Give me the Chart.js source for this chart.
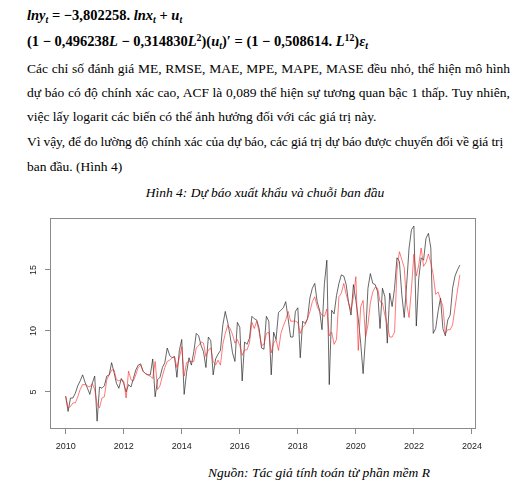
<!DOCTYPE html>
<html>
<head>
<meta charset="utf-8">
<script src="https://cdn.jsdelivr.net/npm/chart.js@4.4.0/dist/chart.umd.min.js"></script>
<style>
  body { margin: 0; background: #fff; width: 530px; height: 496px; overflow: hidden; position: relative;
         font-family: "Liberation Serif", "Times New Roman", serif; color: #000; }
  .ln { position: absolute; left: 27px; font-size: 13.5px; line-height: 14px; white-space: nowrap; }
  .j { width: 483px; text-align: justify; text-align-last: justify; white-space: normal; }
  .tight { letter-spacing: -0.12px; }
  .eq { font-size: 14.5px; font-weight: bold; }
  .eq i { font-style: italic; }
  sub, sup { font-size: 0.68em; line-height: 0; }
  sub { vertical-align: -0.3em; }
  sup { vertical-align: 0.5em; }
  .cap { position: absolute; left: 0; width: 530px; text-align: center; font-style: italic; font-size: 13.5px; line-height: 14px; }
  #wrap { position: absolute; left: 0; top: 200px; width: 530px; height: 265px; }
</style>
</head>
<body>
<div class="ln eq" style="top:8px"><i>lny</i><sub><i>t</i></sub> = −3,802258. <i>lnx</i><sub><i>t</i></sub> + <i>u</i><sub><i>t</i></sub></div>
<div class="ln eq" style="top:34px">(1 − 0,496238<i>L</i> − 0,314830<i>L</i><sup>2</sup>)(<i>u</i><sub><i>t</i></sub>)′ = (1 − 0,508614. <i>L</i><sup>12</sup>)<i>ε</i><sub><i>t</i></sub></div>
<div class="ln j" style="top:62px">Các chỉ số đánh giá ME, RMSE, MAE, MPE, MAPE, MASE đều nhỏ, thể hiện mô hình</div>
<div class="ln j" style="top:86px">dự báo có độ chính xác cao, ACF là 0,089 thể hiện sự tương quan bậc 1 thấp. Tuy nhiên,</div>
<div class="ln" style="top:110px">việc lấy logarit các biến có thể ảnh hưởng đối với các giá trị này.</div>
<div class="ln tight" style="top:135px">Vì vậy, để đo lường độ chính xác của dự báo, các giá trị dự báo được chuyển đổi về giá trị</div>
<div class="ln" style="top:160px">ban đầu. (Hình 4)</div>
<div class="cap" style="top:186px">Hình 4: Dự báo xuất khẩu và chuỗi ban đầu</div>
<div id="wrap"><canvas id="chart" width="530" height="265"></canvas></div>
<div class="cap" style="top:466px;left:54px">Nguồn: Tác giả tính toán từ phần mềm R</div>

<script>
// monthly series, Jan 2010 - Aug 2023
const startYear = 2010;

const actual = [
  4.65, 3.4, 4.5, 4.5, 4.9, 5.5, 5.9, 6.4, 5.8, 5.3, 4.8, 5.7,
  6.3, 2.6, 5.4, 5.3, 5.5, 6.3, 6.4, 7.4, 6.6, 5.7, 5.3, 6.1,
  5.7, 5.0, 5.6, 5.4, 6.1, 6.8, 7.2, 7.3, 6.7, 6.5, 6.4, 6.4,
  7.7, 4.6, 6.0, 6.2, 7.0, 7.4, 8.6, 8.0, 7.8, 7.9, 6.2, 8.4,
  9.3, 4.8, 6.6, 7.8, 7.2, 8.3, 9.8, 9.6, 8.8, 8.3, 7.0, 9.5,
  9.2, 6.4, 7.7, 8.1, 8.4, 10.5, 11.6, 10.7, 9.6, 8.2, 7.5, 10.7,
  10.3, 5.9, 9.1, 8.9, 9.4, 11.2, 11.0, 10.9, 10.2, 8.6, 8.5, 11.2,
  10.8, 6.4, 9.9, 9.3, 11.5, 11.7, 11.9, 12.4, 11.0, 9.5, 9.5, 11.6,
  11.9, 7.8, 10.8, 10.6, 11.0, 12.7, 13.5, 13.9, 12.4, 11.7, 10.1, 13.9,
  15.8, 5.6, 11.7, 11.4, 12.9, 13.9, 14.6, 14.5, 13.8, 12.3, 11.3, 13.8,
  12.5, 11.0, 9.0, 6.5, 9.5, 13.5, 14.7, 13.9, 13.8, 13.2, 10.2, 13.5,
  12.8, 9.0, 13.1, 12.0, 13.5, 16.0, 15.7, 13.0, 11.1, 13.8, 16.8, 18.3,
  18.6, 10.4, 14.3, 16.0, 15.8, 17.6, 18.0, 16.8, 9.8, 10.2, 11.6, 12.7,
  10.2, 9.6, 10.9, 11.3, 13.5, 14.5, 15.0, 15.4
];

const forecast = [
  4.65, 3.7, 3.8, 4.1, 4.1, 4.6, 5.2, 5.6, 5.6, 5.5, 5.4, 5.7,
  5.2, 4.0, 3.7, 4.5, 4.6, 6.0, 6.4, 6.8, 6.8, 6.0, 5.9, 6.0,
  5.9, 4.5, 6.7, 6.0, 5.9, 6.4, 7.0, 7.2, 6.7, 6.5, 6.4, 6.3,
  6.1, 7.5, 5.2, 5.5, 6.3, 7.0, 7.5, 7.6, 7.8, 7.9, 7.0, 7.8,
  8.7, 6.3, 7.4, 7.5, 7.5, 7.5, 8.6, 8.8, 9.1, 9.0, 7.9, 8.45,
  8.6, 7.5, 7.2, 7.6, 7.2, 8.9, 9.8, 10.45, 10.2, 9.7, 9.0, 9.3,
  8.8, 8.0, 8.45, 8.45, 9.0, 10.7, 10.2, 10.8, 9.9, 8.8, 8.9, 9.8,
  9.9, 8.2, 9.0, 9.3, 8.4, 9.8, 10.4, 10.9, 11.6, 10.8, 10.8, 10.8,
  10.7, 9.8, 10.3, 10.5, 11.0, 11.6, 12.4, 12.8, 12.0, 11.6, 11.3, 11.2,
  11.8, 9.6, 9.9, 8.9, 9.3, 12.8, 13.1, 13.9, 13.0, 12.3, 11.7, 12.8,
  14.45, 8.4, 12.0, 12.5, 9.5, 10.5, 12.3, 13.2, 13.6, 13.5, 12.4, 12.3,
  11.3, 10.5, 9.5, 9.5, 9.9, 15.0, 16.5, 15.85, 15.2, 12.2, 11.1, 13.5,
  16.3, 14.5, 15.4, 16.8, 15.3, 15.6, 16.3, 15.6, 14.6, 13.0, 13.2, 12.6,
  12.0, 9.8, 10.1, 10.1, 10.5, 11.9, 13.3, 14.6
];

const xTicks = [2010, 2012, 2014, 2016, 2018, 2020, 2022, 2024];
const yTicks = [5, 10, 15];

function toPoints(values) {
  return values.map((v, i) => ({ x: startYear + i / 12, y: v }));
}

// R-style box around the plot plus rotated y labels
const rFrame = {
  id: 'rFrame',
  afterDraw(chart) {
    const ctx = chart.ctx;
    const a = chart.chartArea;
    ctx.save();
    ctx.strokeStyle = '#8a8a8a';
    ctx.lineWidth = 1;
    ctx.strokeRect(Math.round(a.left) + 0.5, Math.round(a.top) + 0.5,
                   Math.round(a.right - a.left) - 1, Math.round(a.bottom - a.top) - 1);
    const ys = chart.scales.y;
    ctx.fillStyle = '#222';
    ctx.font = '9px "Liberation Sans", Arial, sans-serif';
    ctx.textAlign = 'center';
    ctx.textBaseline = 'middle';
    yTicks.forEach(v => {
      ctx.save();
      ctx.translate(34, ys.getPixelForValue(v));
      ctx.rotate(-Math.PI / 2);
      ctx.fillText(String(v), 0, 0);
      ctx.restore();
    });
    ctx.restore();
  }
};

new Chart(document.getElementById('chart'), {
  type: 'line',
  data: {
    datasets: [
      { data: toPoints(forecast), borderColor: 'rgba(255,40,40,0.62)', borderWidth: 1, pointRadius: 0, tension: 0 },
      { data: toPoints(actual), borderColor: 'rgba(40,40,40,0.7)', borderWidth: 1, pointRadius: 0, tension: 0 }
    ]
  },
  options: {
    responsive: false,
    animation: false,
    devicePixelRatio: 1,
    layout: { padding: { top: 18, right: 54, left: 0, bottom: 0 } },
    plugins: { legend: { display: false }, tooltip: { enabled: false } },
    scales: {
      x: {
        type: 'linear',
        min: 2009.46,
        max: 2024.14,
        afterBuildTicks: s => { s.ticks = xTicks.map(v => ({ value: v })); },
        afterFit: s => { s.height = 36; },
        border: { display: false },
        grid: { drawOnChartArea: false, tickLength: 5, color: '#8a8a8a' },
        ticks: {
          font: { family: '"Liberation Sans", Arial, sans-serif', size: 9 },
          color: '#222', padding: 7, maxRotation: 0, autoSkip: false,
          callback: v => String(v)
        }
      },
      y: {
        min: 1.96,
        max: 19.26,
        afterBuildTicks: s => { s.ticks = yTicks.map(v => ({ value: v })); },
        afterFit: s => { s.width = 50; },
        border: { display: false },
        grid: { drawOnChartArea: false, tickLength: 5, color: '#8a8a8a' },
        ticks: { display: false }
      }
    }
  },
  plugins: [rFrame]
});
</script>
</body>
</html>
